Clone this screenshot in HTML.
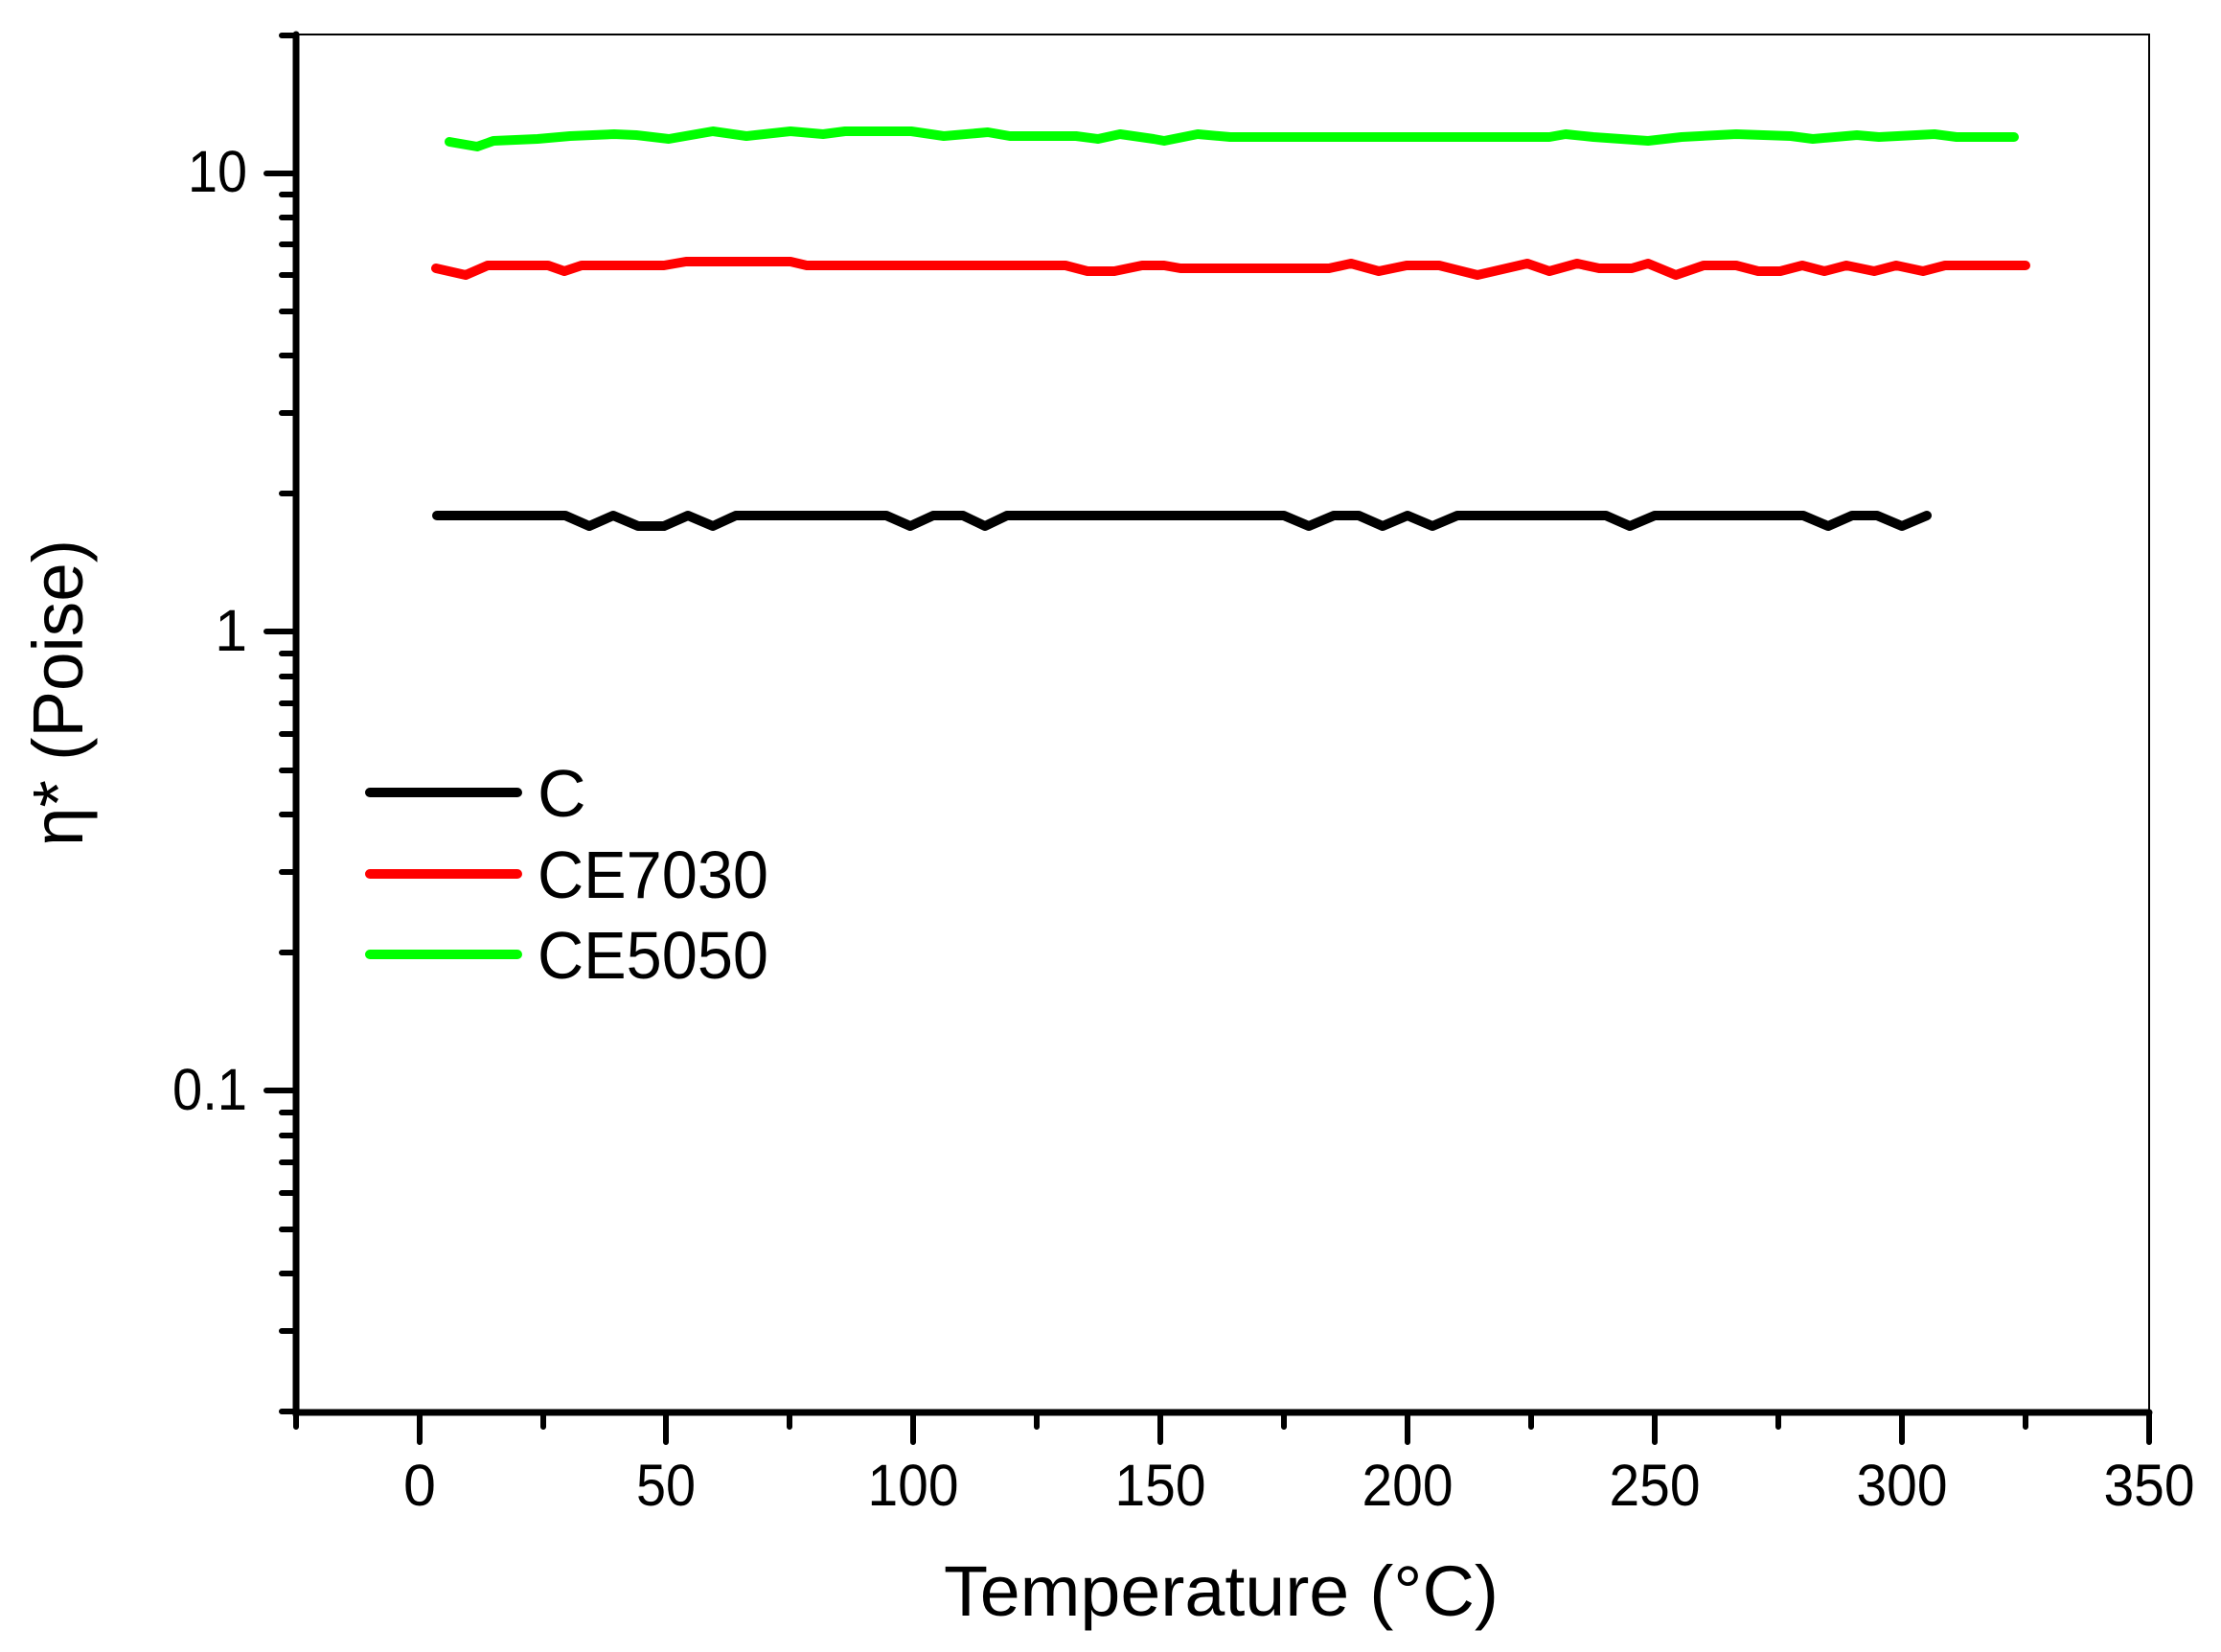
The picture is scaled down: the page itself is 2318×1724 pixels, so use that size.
<!DOCTYPE html>
<html><head><meta charset="utf-8"><style>html,body{margin:0;padding:0;background:#fff}svg{display:block}</style></head>
<body>
<svg width="2318" height="1724" viewBox="0 0 2318 1724" xmlns="http://www.w3.org/2000/svg" font-family="'Liberation Sans', Arial, sans-serif">
<rect width="2318" height="1724" fill="#fff"/>
<path d="M309 36 H2243 V1474" fill="none" stroke="#000" stroke-width="2"/>
<path d="M309 36 V1474 H2243" fill="none" stroke="#000" stroke-width="7" stroke-linecap="round"/>
<g stroke="#000" stroke-width="6" stroke-linecap="round">
<path d="M278 181H309M278 659H309M278 1138H309"/>
<path d="M294 37H309M294 515H309M294 431H309M294 371H309M294 325H309M294 287H309M294 255H309M294 227H309M294 203H309M294 994H309M294 910H309M294 850H309M294 804H309M294 766H309M294 734H309M294 706H309M294 682H309M294 1473H309M294 1389H309M294 1329H309M294 1283H309M294 1245H309M294 1213H309M294 1185H309M294 1161H309"/>
<path d="M438 1474V1505M695 1474V1505M953 1474V1505M1211 1474V1505M1469 1474V1505M1727 1474V1505M1985 1474V1505M2243 1474V1505"/>
<path d="M309 1474V1489M567 1474V1489M824 1474V1489M1082 1474V1489M1340 1474V1489M1598 1474V1489M1856 1474V1489M2114 1474V1489"/>
</g>
<g font-size="61" text-anchor="end" fill="#000">
<text x="258" y="200" textLength="62" lengthAdjust="spacingAndGlyphs">10</text>
<text x="258" y="679">1</text>
<text x="258" y="1158" textLength="78" lengthAdjust="spacingAndGlyphs">0.1</text>
</g>
<g font-size="61" text-anchor="middle" fill="#000">
<text x="438" y="1571">0</text>
<text x="695" y="1571" textLength="62" lengthAdjust="spacingAndGlyphs">50</text>
<text x="953" y="1571" textLength="95" lengthAdjust="spacingAndGlyphs">100</text>
<text x="1211" y="1571" textLength="95" lengthAdjust="spacingAndGlyphs">150</text>
<text x="1469" y="1571" textLength="95" lengthAdjust="spacingAndGlyphs">200</text>
<text x="1727" y="1571" textLength="95" lengthAdjust="spacingAndGlyphs">250</text>
<text x="1985" y="1571" textLength="95" lengthAdjust="spacingAndGlyphs">300</text>
<text x="2243" y="1571" textLength="95" lengthAdjust="spacingAndGlyphs">350</text>
</g>
<text x="985" y="1686" font-size="74" textLength="579" lengthAdjust="spacingAndGlyphs" fill="#000">Temperature (°C)</text>
<text transform="translate(86,723) rotate(-90)" x="0" y="0" font-size="74" text-anchor="middle" textLength="320" lengthAdjust="spacingAndGlyphs" fill="#000">η* (Poise)</text>
<g fill="none" stroke-width="10" stroke-linejoin="round" stroke-linecap="round">
<polyline stroke="#00ff00" points="469,148 498,153 515,147 561,145 595,142 641,140 664,141 698,145 744,137 779,142 825,137 859,140 882,137 951,137 985,142 1031,138 1054,142 1123,142 1146,145 1169,140 1204,145 1215,147 1250,140 1284,143 1617,143 1634,140 1663,143 1720,147 1755,143 1812,140 1869,142 1892,145 1938,141 1961,143 2019,140 2042,143 2102,143"/>
<polyline stroke="#ff0000" points="455,280 486,287 509,277 572,277 589,283 607,277 693,277 716,273 825,273 842,277 1112,277 1135,283 1163,283 1192,277 1215,277 1232,280 1387,280 1410,275 1439,283 1468,277 1502,277 1542,287 1594,275 1617,283 1646,275 1669,280 1703,280 1720,275 1749,287 1778,277 1812,277 1835,283 1858,283 1881,277 1904,283 1927,277 1956,283 1979,277 2007,283 2030,277 2114,277"/>
<polyline stroke="#000" points="456,538 590,538 615,549 640,538 666,549 693,549 718,538 744,549 768,538 925,538 950,549 974,538 1005,538 1028,549 1051,538 1340,538 1366,549 1392,538 1418,538 1443,549 1469,538 1495,549 1521,538 1676,538 1701,549 1727,538 1882,538 1908,549 1933,538 1959,538 1985,549 2011,538"/>
</g>
<g stroke-width="10" stroke-linecap="round">
<line x1="386" y1="827" x2="540" y2="827" stroke="#000"/>
<line x1="386" y1="912" x2="540" y2="912" stroke="#ff0000"/>
<line x1="386" y1="996" x2="540" y2="996" stroke="#00ff00"/>
</g>
<g font-size="70" fill="#000">
<text x="561" y="852">C</text>
<text x="561" y="937" textLength="241" lengthAdjust="spacingAndGlyphs">CE7030</text>
<text x="561" y="1021" textLength="241" lengthAdjust="spacingAndGlyphs">CE5050</text>
</g>
</svg>
</body></html>
